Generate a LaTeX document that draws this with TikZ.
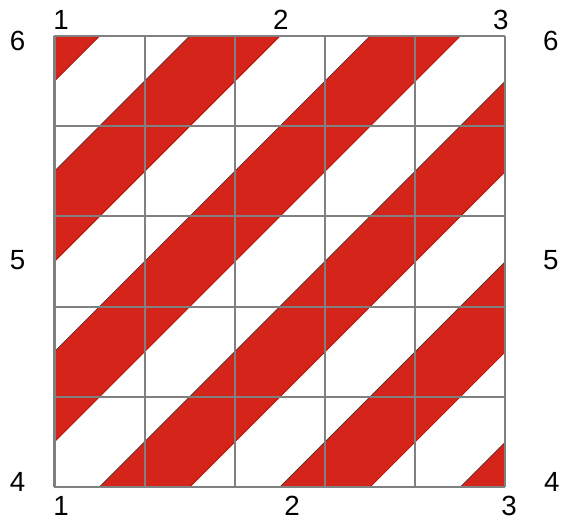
\documentclass[tikz,border=0pt]{standalone}
\usepackage{fontspec}
\setmainfont{Liberation Sans}
\usepackage{xcolor}
\usepackage{tikz}
\usetikzlibrary{positioning}

\definecolor{stripered}{RGB}{213,37,27}
\definecolor{stripeedge}{RGB}{140,32,24}
\definecolor{gridgray}{RGB}{128,128,128}

\begin{document}
\begin{tikzpicture}[x=2cm, y=2cm,
    every node/.style={font=\fontsize{17.5}{20}\selectfont, inner sep=0pt},
    band/.style={fill=stripered, draw=stripeedge, line width=0.5pt},
    gridline/.style={draw=gridgray, line width=1.3pt}]

  \useasboundingbox (-0.604,-0.366) rectangle (5.649,5.399);

  %% ─── Red stripes ────────────────────────────────────────────────────────
  \begin{scope}
    \clip (0,0) rectangle (5,5);
    \foreach \a in {-5.5,-3.5,-1.5,0.5,2.5,4.5}
      \draw[band] (\a-1,-1) -- (\a+6,6) -- (\a+7,6) -- (\a,-1) -- cycle;
  \end{scope}

  %% ─── Grid ───────────────────────────────────────────────────────────────
  \draw[gridline, step=2cm] (0,0) grid (5,5);

  %% ─── Labels ─────────────────────────────────────────────────────────────
  \node (top_one)   at (0.072,5.177) {1};
  \node (top_two)   at (2.510,5.177) {2};
  \node (top_three) at (4.950,5.177) {3};

  \node (bot_one)   at (0.072,-0.210) {1};
  \node (bot_two)   at (2.633,-0.205) {2};
  \node (bot_three) at (5.040,-0.210) {3};

  \node (left_six)   at (-0.410,4.945) {6};
  \node (left_five)  at (-0.410,2.517) {5};
  \node (left_four)  at (-0.410,0.055) {4};

  \node (right_six)  at (5.504,4.945) {6};
  \node (right_five) at (5.504,2.517) {5};
  \node (right_four) at (5.515,0.055) {4};

\end{tikzpicture}
\end{document}
